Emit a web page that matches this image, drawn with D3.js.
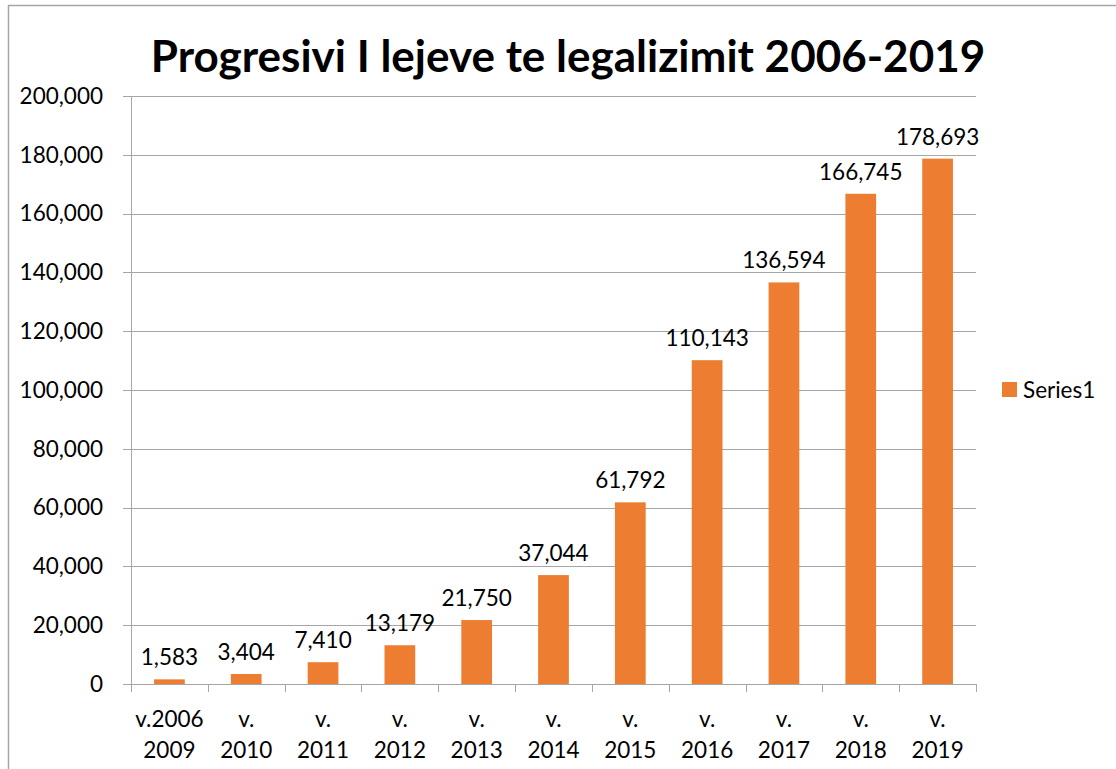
<!DOCTYPE html>
<html>
<head>
<meta charset="utf-8">
<script src="https://cdn.jsdelivr.net/npm/d3@7"></script>
<style>
  body { margin: 0; background: #fff; }
  svg text { font-family: Lato, "Open Sans", sans-serif; fill: #000; }
</style>
</head>
<body>
<svg id="chart" width="1116" height="769"></svg>
<script>
// chart data
var categories = ['v.2006 2009', 'v. 2010', 'v. 2011', 'v. 2012', 'v. 2013', 'v. 2014',
                  'v. 2015', 'v. 2016', 'v. 2017', 'v. 2018', 'v. 2019'];
var values = [1583, 3404, 7410, 13179, 21750, 37044, 61792, 110143, 136594, 166745, 178693];
var yTicks = [0, 20000, 40000, 60000, 80000, 100000, 120000, 140000, 160000, 180000, 200000];
var seriesName = 'Series1';
var title = 'Progresivi I lejeve te legalizimit 2006-2019';

var svg = d3.select('#chart');
var plotL = 131, plotR = 976, plotT = 96, plotB = 684;
var orange = '#ed7d31', grid = '#a6a6a6';
var fs = '22.5px';

//outer frame
svg.append('rect')
    .attr('x', 8.5).attr('y', 5.5)
    .attr('width', 1120).attr('height', 800)
    .attr('fill', 'none').attr('stroke', grid).attr('stroke-width', 1.5);

var x = d3.scaleBand().domain(categories).range([plotL, plotR]).paddingInner(0.6).paddingOuter(0.3);
var xb = d3.scaleBand().domain(categories).range([plotL, plotR]);
var y = d3.scaleLinear().domain([0, 200000]).range([plotB, plotT]);

//gridlines
svg.append('g').selectAll('line').data(yTicks).enter()
    .append('line')
    .attr('x1', plotL - 8).attr('x2', plotR)
    .attr('y1', function(d){return Math.round(y(d)) + 0.5;})
    .attr('y2', function(d){return Math.round(y(d)) + 0.5;})
    .attr('stroke', grid).attr('stroke-width', 1);

//y axis line
svg.append('line')
    .attr('x1', plotL + 0.5).attr('x2', plotL + 0.5)
    .attr('y1', plotT).attr('y2', plotB + 8)
    .attr('stroke', grid);

//x tick marks
var xTickPos = categories.map(function(c){return xb(c);}).concat([plotR]);
svg.append('g').selectAll('line').data(xTickPos).enter()
    .append('line')
    .attr('x1', function(d){return Math.round(d) + 0.5;})
    .attr('x2', function(d){return Math.round(d) + 0.5;})
    .attr('y1', plotB).attr('y2', plotB + 8)
    .attr('stroke', grid);

//y labels
svg.append('g').selectAll('text').data(yTicks).enter()
    .append('text')
    .attr('x', plotL - 28)
    .attr('y', function(d){return y(d);})
    .attr('dy', '0.35em')
    .attr('text-anchor', 'end')
    .style('font-size', fs)
    .text(function(d){return d3.format(',')(d);});

//bars
svg.append('g').selectAll('rect').data(values).enter()
    .append('rect')
    .attr('x', function(d, i){return x(categories[i]);})
    .attr('width', x.bandwidth())
    .attr('y', function(d){return y(d);})
    .attr('height', function(d){return plotB - y(d);})
    .attr('fill', orange);

//data labels
svg.append('g').selectAll('text').data(values).enter()
    .append('text')
    .attr('x', function(d, i){return x(categories[i]) + x.bandwidth() / 2;})
    .attr('y', function(d){return y(d) - 14;})
    .attr('text-anchor', 'middle')
    .style('font-size', fs)
    .text(function(d){return d3.format(',')(d);});

//category labels, two lines
var xl = svg.append('g').selectAll('text').data(categories).enter()
    .append('text')
    .attr('x', function(d){return xb(d) + xb.bandwidth() / 2;})
    .attr('y', 727)
    .attr('text-anchor', 'middle')
    .style('font-size', fs);
xl.append('tspan')
    .attr('x', function(d){return xb(d) + xb.bandwidth() / 2;})
    .text(function(d){return d.split(' ')[0];});
xl.append('tspan')
    .attr('x', function(d){return xb(d) + xb.bandwidth() / 2;})
    .attr('dy', 31)
    .text(function(d){return d.split(' ')[1];});

//title
svg.append('text')
    .attr('x', 568).attr('y', 72)
    .attr('text-anchor', 'middle')
    .style('font-size', '44px').style('font-weight', 'bold')
    .text(title);

//legend
svg.append('rect')
    .attr('x', 1002).attr('y', 382).attr('width', 15).attr('height', 15)
    .attr('fill', orange);
svg.append('text')
    .attr('x', 1023).attr('y', 390)
    .attr('dy', '0.35em')
    .style('font-size', fs)
    .text(seriesName);
</script>
</body>
</html>
